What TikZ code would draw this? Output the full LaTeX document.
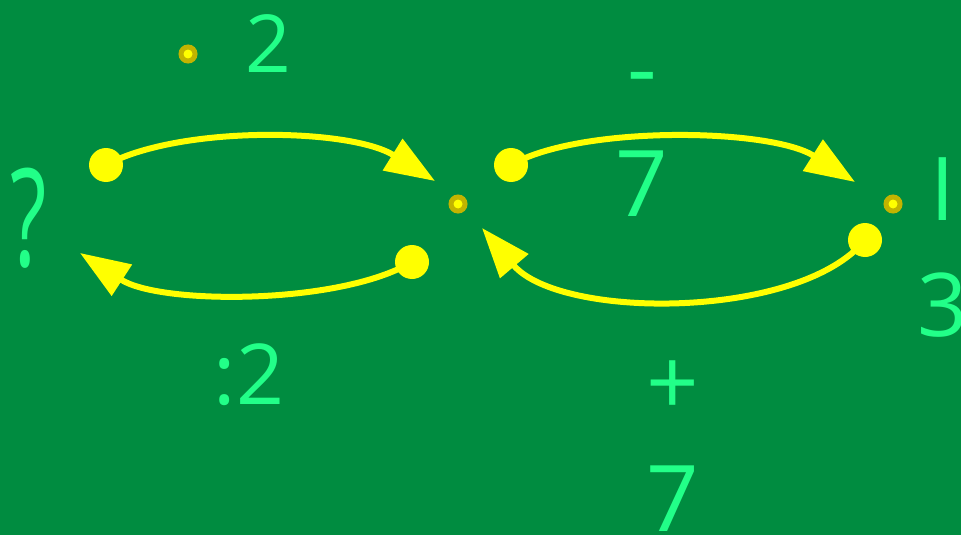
\documentclass[tikz,border=0pt]{standalone}
\usepackage{fontspec}
\setmainfont{Open Sans}
\usepackage{tikz}
\usepackage{xcolor}
\usetikzlibrary{arrows.meta,positioning}
\definecolor{board}{HTML}{008C40}
\definecolor{chalk}{HTML}{22FF88}
\definecolor{marker}{HTML}{FFFF00}
\definecolor{olive}{HTML}{C2B400}
\tikzset{
  numdot/.style={circle,draw=olive,fill=marker,line width=5pt,
                 minimum size=14pt,inner sep=0pt},
  startdot/.style={circle,fill=marker,minimum size=34pt,inner sep=0pt},
  bigtxt/.style={text=chalk,inner sep=0pt,align=center,
                 font=\fontsize{92}{116}\selectfont},
  flowarr/.style={-{Triangle[length=50pt,width=36pt]},line width=6pt,
                  color=marker}
}

\begin{document}
\begin{tikzpicture}[x=1pt,y=-1pt]
  \fill[board] (0,0) rectangle (961,535);
  \useasboundingbox (0,0) rectangle (961,535);

  % the three numbers
  \node[bigtxt,font=\fontsize{136}{150}\selectfont,xscale=0.62,transform shape]
    (q) at (29,218) {?};
  \node[numdot] (mid) at (458,204) {};
  \node[numdot] (res) at (893,204) {};

  % operation labels
  \node[numdot] (times) at (188,54) {};
  \node[bigtxt,font=\fontsize{80}{96}\selectfont] (two) at (268,44) {2};
  \node[bigtxt,font=\fontsize{84}{100}\selectfont] (half) at (249,375) {:2};
  \node[bigtxt,anchor=south] (minus) at (642,217) {-\\7};
  \node[bigtxt,anchor=south] (plus) at (673,532) {+\\7};
  \node[bigtxt,anchor=south,font=\fontsize{88}{116}\selectfont] (val) at (943,338) {I\\3};

  % arrows with their start dots
  \node[startdot] (s1) at (106,165) {};
  \node[startdot] (s2) at (412,262) {};
  \node[startdot] (s3) at (511,165) {};
  \node[startdot] (s4) at (865,240) {};
  \coordinate (e1) at (435,181);
  \coordinate (e2) at (80,253);
  \coordinate (e3) at (855,182);
  \coordinate (e4) at (482,228);

  \draw[flowarr] (s1.center) .. controls (180,125) and (350,128) .. (e1);
  \draw[flowarr] (s2.center) .. controls (340,305) and (160,305) .. (e2);
  \draw[flowarr] (s3.center) .. controls (580,125) and (770,128) .. (e3);
  \draw[flowarr] (s4.center) .. controls (800,320) and (560,320) .. (e4);
\end{tikzpicture}
\end{document}
